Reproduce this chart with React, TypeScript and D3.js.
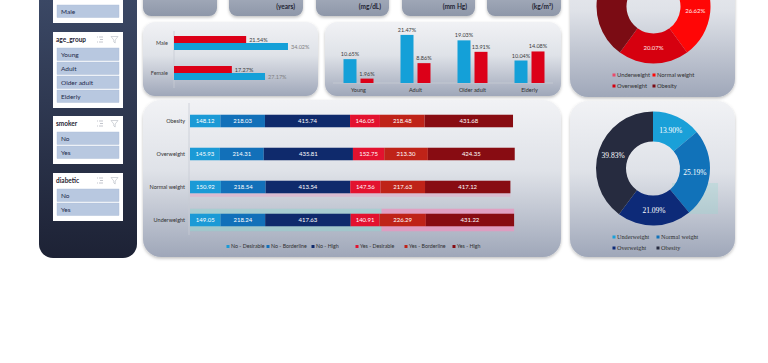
import React from "react";
import * as d3 from "d3";

// slicers
const genderItems = ["Male"];
const ageItems = ["Young", "Adult", "Older adult", "Elderly"];
const smokerItems = ["No", "Yes"];
const diabeticItems = ["No", "Yes"];
const cardUnits = ["", "(years)", "(mg/dL)", "(mm Hg)", "(kg/m²)"];

// smoker share by gender (%)
const genders = ["Male", "Female"];
const genderSmoker = [21.54, 17.27];
const genderNonSmoker = [34.02, 27.17];

// smoker share by age group (%)
const ageGroups = ["Young", "Adult", "Older adult", "Elderly"];
const ageNonSmoker = [10.65, 21.47, 19.03, 10.04];
const ageSmoker = [1.96, 8.86, 13.91, 14.08];

// cholesterol by bmi category
const bmiCats = ["Obesity", "Overweight", "Normal weight", "Underweight"];
const cholKeys = ["No - Desirable", "No - Borderline", "No - High", "Yes - Desirable", "Yes - Borderline", "Yes - High"];
const noDesirable = [148.12, 145.93, 150.92, 149.05];
const noBorderline = [218.03, 214.31, 218.54, 218.24];
const noHigh = [415.74, 435.81, 413.54, 417.63];
const yesDesirable = [146.05, 152.75, 147.56, 140.91];
const yesBorderline = [218.48, 213.3, 217.63, 226.29];
const yesHigh = [431.68, 424.35, 417.12, 431.22];
const cholColors = ["#1b9ad6", "#1270b9", "#0f2a6c", "#e3122f", "#bf2318", "#880c12"];

// bmi donuts (%)
const bmiLegend = ["Underweight", "Normal weight", "Overweight", "Obesity"];
const smokerBmi = [13.35, 26.62, 20.07, 39.96];
const nonSmokerBmi = [13.9, 25.19, 21.09, 39.83];
const redColors = ["#e94a6a", "#ff0606", "#d6000f", "#7b0c14"];
const blueColors = ["#1aa0d8", "#1172b9", "#0d2a78", "#262b3f"];

const SANS = "Lato, 'Liberation Sans', sans-serif";
const SERIF = "'Liberation Serif', serif";
const BLUE = "#14a0d8";
const RED = "#dc0018";

const Slicer = ({ y, title, items }: { y: number; title: string; items: string[] }) => {
  const top = title ? 16 : 5;
  const h = top + items.length * 14 + 4;
  return (
    <g transform={`translate(53,${y})`}>
      <rect width={70} height={h} fill="#ffffff" />
      {title && (
        <g>
          <text x={3} y={10} fontSize={6.5} fontWeight={700} fill="#1f2433" fontFamily={SANS}>{title}</text>
          <g stroke="#9aa0ab" strokeWidth={0.6}>
            <line x1={46} x2={50} y1={5} y2={5} />
            <line x1={47} x2={50} y1={7.5} y2={7.5} />
            <line x1={46} x2={50} y1={10} y2={10} />
            <line x1={44} x2={45} y1={5} y2={5} />
            <line x1={44} x2={45} y1={10} y2={10} />
          </g>
          <path d="M58,4.5 L65,4.5 L62.2,8 L62.2,11 L60.8,10 L60.8,8 Z" fill="none" stroke="#b5bac3" strokeWidth={0.6} />
        </g>
      )}
      {items.map((it, i) => (
        <g key={it} transform={`translate(4,${top + i * 14})`}>
          <rect width={62} height={12.5} fill="#b8c8e0" stroke="#a9bbd6" strokeWidth={0.4} />
          <text x={4} y={8.8} fontSize={6.5} fill="#1e2b4a" fontFamily={SANS}>{it}</text>
        </g>
      ))}
    </g>
  );
};

export default function App() {
  // gender chart
  const gx = d3.scaleLinear().domain([0, 40]).range([174, 308]);
  const gy = d3.scaleBand().domain(genders).range([28, 88]);

  // age chart
  const ax = d3.scaleBand().domain(ageGroups).range([330, 558]);
  const ay = d3.scaleLinear().domain([0, 25]).range([83, 27]);

  // stacked chart
  const sx = d3.scaleLinear().domain([0, 1600]).range([190, 517.5]);
  const sy = d3.scaleBand().domain(bmiCats).range([104.5, 236.5]).paddingInner(0.62).paddingOuter(0.31);
  const series = [noDesirable, noBorderline, noHigh, yesDesirable, yesBorderline, yesHigh];
  const rows = bmiCats.map((c, i) => {
    const o: Record<string, number | string> = { cat: c };
    cholKeys.forEach((k, j) => (o[k] = series[j][i]));
    return o;
  });
  const stacked = d3.stack<any>().keys(cholKeys)(rows);

  // donuts
  const pie = d3.pie<number>().sort(null).value((d) => d);
  const arc = d3.arc<d3.PieArcDatum<number>>().innerRadius(27).outerRadius(57);
  const labelArc = d3.arc<d3.PieArcDatum<number>>().innerRadius(42).outerRadius(42);
  const topCy = 6.5;

  const cards = [
    { x: 143, w: 74 },
    { x: 229, w: 74 },
    { x: 316, w: 73 },
    { x: 402, w: 73 },
    { x: 487, w: 74 },
  ];

  return (
    <svg width={768} height={363} style={{ position: "fixed", left: 0, top: 0, background: "#fff" }} fontFamily={SANS}>
      <defs>
        <linearGradient id="side" x1="0" y1="0" x2="0" y2="1">
          <stop offset="0" stopColor="#3e4c6a" />
          <stop offset="1" stopColor="#1d2235" />
        </linearGradient>
        <linearGradient id="panel" x1="0" y1="0" x2="0" y2="1">
          <stop offset="0" stopColor="#f1f2f5" />
          <stop offset="0.45" stopColor="#dfe2e8" />
          <stop offset="1" stopColor="#9fa7b9" />
        </linearGradient>
        <linearGradient id="card" x1="0" y1="0" x2="0" y2="1">
          <stop offset="0" stopColor="#b3bac7" />
          <stop offset="1" stopColor="#8e97a9" />
        </linearGradient>
        <filter id="shadow" x="-10%" y="-10%" width="120%" height="130%">
          <feDropShadow dx="0" dy="1.5" stdDeviation="1.5" floodColor="#000" floodOpacity="0.25" />
        </filter>
      </defs>

      {/* left slicer panel */}
      <rect x={39} y={-30} width={98} height={288} rx={14} fill="url(#side)" />
      <Slicer y={0} title="" items={genderItems} />
      <Slicer y={32} title="age_group" items={ageItems} />
      <Slicer y={116} title="smoker" items={smokerItems} />
      <Slicer y={173} title="diabetic" items={diabeticItems} />

      {/* kpi cards */}
      {cards.map((c, i) => (
        <g key={i}>
          <rect x={c.x} y={-20} width={c.w} height={36} rx={8} fill="url(#card)" filter="url(#shadow)" />
          <text x={c.x + c.w - 8} y={9} textAnchor="end" fontSize={6.5} fontWeight={700} fill="#1f2433">
            {cardUnits[i]}
          </text>
        </g>
      ))}

      {/* gender panel */}
      <rect x={143} y={22} width={175} height={74} rx={12} fill="url(#panel)" filter="url(#shadow)" />
      <line x1={gx(0)} x2={gx(0)} y1={31} y2={88} stroke="#c8ccd4" strokeWidth={0.8} />
      {genders.map((g, i) => {
        const c = (gy(g) ?? 0) + gy.bandwidth() / 2;
        return (
          <g key={g}>
            <text x={168} y={c + 2} textAnchor="end" fontSize={5.5} fill="#404040">{g}</text>
            <rect x={gx(0)} y={c - 7} width={gx(genderSmoker[i]) - gx(0)} height={7} fill={RED} />
            <rect x={gx(0)} y={c} width={gx(genderNonSmoker[i]) - gx(0)} height={7} fill={BLUE} />
            <text x={gx(genderSmoker[i]) + 3} y={c - 1.5} fontSize={5.5} fill="#404040">{genderSmoker[i].toFixed(2)}%</text>
            <text x={gx(genderNonSmoker[i]) + 3} y={c + 5.5} fontSize={5.5} fill="#808080">{genderNonSmoker[i].toFixed(2)}%</text>
          </g>
        );
      })}

      {/* age group panel */}
      <rect x={325} y={22} width={236} height={74} rx={12} fill="url(#panel)" filter="url(#shadow)" />
      <line x1={333} x2={553} y1={ay(0)} y2={ay(0)} stroke="#c8ccd4" strokeWidth={0.8} />
      {ageGroups.map((a, i) => {
        const c = (ax(a) ?? 0) + ax.bandwidth() / 2;
        return (
          <g key={a}>
            <rect x={c - 15} y={ay(ageNonSmoker[i])} width={13} height={ay(0) - ay(ageNonSmoker[i])} fill={BLUE} />
            <rect x={c + 2} y={ay(ageSmoker[i])} width={13} height={ay(0) - ay(ageSmoker[i])} fill={RED} />
            <text x={c - 8.5} y={ay(ageNonSmoker[i]) - 3} textAnchor="middle" fontSize={5.5} fill="#404040">
              {ageNonSmoker[i].toFixed(2)}%
            </text>
            <text x={c + 8.5} y={ay(ageSmoker[i]) - 3} textAnchor="middle" fontSize={5.5} fill="#404040">
              {ageSmoker[i].toFixed(2)}%
            </text>
            <text x={c} y={92} textAnchor="middle" fontSize={5.5} fill="#303030">{a}</text>
          </g>
        );
      })}

      {/* stacked cholesterol panel */}
      <rect x={143} y={100} width={418} height={157} rx={18} fill="url(#panel)" filter="url(#shadow)" />
      <line x1={189} x2={189} y1={103} y2={235} stroke="#c8ccd4" strokeWidth={0.8} />
      {/* selection glow */}
      <rect x={sx(0)} y={(sy("Normal weight") ?? 0) + sy.bandwidth()} width={sx(1565.31) - sx(0)} height={3.5} fill="#e9a6c6" opacity={0.5} />
      <rect x={sx(935)} y={(sy("Underweight") ?? 0) - 5} width={sx(1583.34) - sx(935)} height={sy.bandwidth() + 10} fill="#e896be" opacity={0.8} />
      <rect x={sx(0)} y={(sy("Underweight") ?? 0) - 5} width={sx(935) - sx(0)} height={sy.bandwidth() + 10} fill="#8fd3cf" opacity={0.5} />
      {bmiCats.map((c) => (
        <text key={c} x={185} y={(sy(c) ?? 0) + sy.bandwidth() / 2 + 2} textAnchor="end" fontSize={5.5} fill="#303030">{c}</text>
      ))}
      {stacked.map((s, j) => (
        <g key={s.key}>
          {s.map((d, i) => (
            <g key={i}>
              <rect x={sx(d[0])} y={sy(bmiCats[i])} width={sx(d[1]) - sx(d[0])} height={sy.bandwidth()} fill={cholColors[j]} />
              <text x={(sx(d[0]) + sx(d[1])) / 2} y={(sy(bmiCats[i]) ?? 0) + sy.bandwidth() / 2 + 2.2} textAnchor="middle" fontSize={6} fill="#ffffff">
                {series[j][i].toFixed(2)}
              </text>
            </g>
          ))}
        </g>
      ))}
      {cholKeys.map((k, j) => {
        const lx = [228, 268, 313, 357, 406, 454][j];
        return (
          <g key={k}>
            <rect x={lx - 1.5} y={245} width={3} height={3} fill={cholColors[j]} />
            <text x={lx + 3} y={248.3} fontSize={5.3} fill="#303030">{k}</text>
          </g>
        );
      })}

      {/* smoker bmi donut */}
      <rect x={570} y={-60} width={165} height={157} rx={18} fill="url(#panel)" filter="url(#shadow)" />
      <g transform={`translate(653.5,${topCy})`}>
        {pie(smokerBmi).map((p, i) => {
          const [lx, ly] = labelArc.centroid(p);
          return (
            <g key={i}>
              <path d={arc(p) ?? ""} fill={redColors[i]} />
              {ly + topCy > 5 && (
                <text x={lx} y={ly + 2} textAnchor="middle" fontSize={6} fill="#ffe8e8">
                  {smokerBmi[i].toFixed(2)}%
                </text>
              )}
            </g>
          );
        })}
      </g>
      {bmiLegend.map((b, i) => {
        const lx = i % 2 === 0 ? 614 : 654;
        const ly = i < 2 ? 75 : 86;
        return (
          <g key={b}>
            <rect x={lx - 1.5} y={ly - 1.5} width={3} height={3} fill={redColors[i]} />
            <text x={lx + 3} y={ly + 2} fontSize={5.8} fill="#303030">{b}</text>
          </g>
        );
      })}

      {/* non-smoker bmi donut */}
      <rect x={570} y={101} width={165} height={156} rx={18} fill="url(#panel)" filter="url(#shadow)" />
      <rect x={672} y={183} width={46} height={31} fill="#9fd8d0" opacity={0.35} />
      <g transform="translate(653,168.5)">
        {pie(nonSmokerBmi).map((p, i) => (
          <g key={i}>
            <path d={arc(p) ?? ""} fill={blueColors[i]} />
            <text x={labelArc.centroid(p)[0]} y={labelArc.centroid(p)[1] + 2.5} textAnchor="middle" fontSize={7.5} fill="#ffffff" fontFamily={SERIF}>
              {nonSmokerBmi[i].toFixed(2)}%
            </text>
          </g>
        ))}
      </g>
      {bmiLegend.map((b, i) => {
        const lx = i % 2 === 0 ? 614 : 658;
        const ly = i < 2 ? 237 : 248;
        return (
          <g key={b}>
            <rect x={lx - 1.5} y={ly - 1.5} width={3} height={3} fill={blueColors[i]} />
            <text x={lx + 3} y={ly + 2} fontSize={6.2} fill="#303030" fontFamily={SERIF}>{b}</text>
          </g>
        );
      })}
    </svg>
  );
}
